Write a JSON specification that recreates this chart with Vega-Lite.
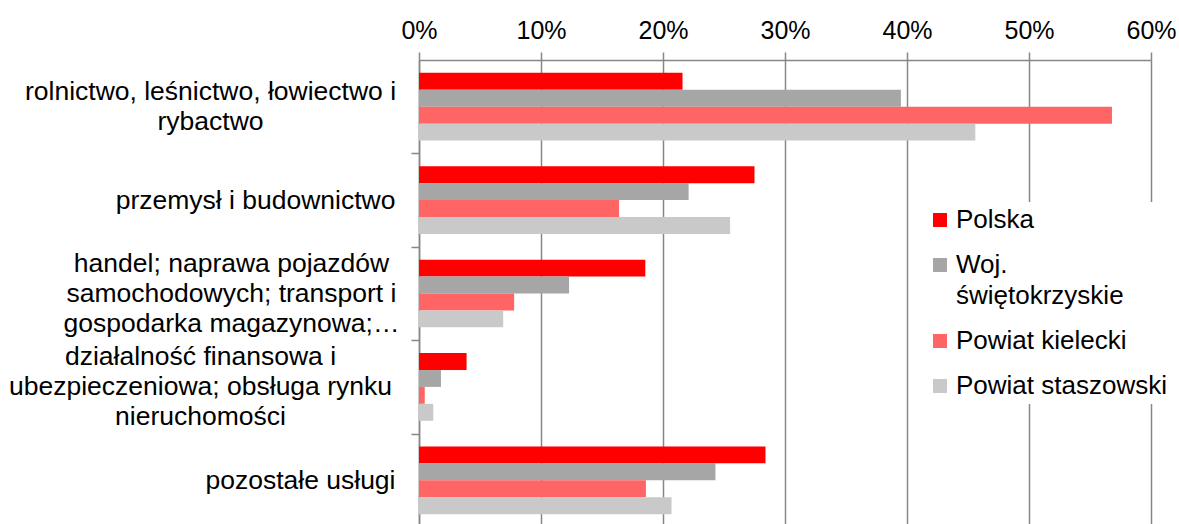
{
  "$schema": "https://vega.github.io/schema/vega-lite/v6.json",
  "width": 732,
  "height": 467,
  "padding": {"left": 5, "top": 5, "right": 5, "bottom": 5},
  "background": "white",
  "config": {"view": {"stroke": null}, "font": "Liberation Sans"},
  "data": {
    "values": [
      {"category": "rolnictwo, leśnictwo, łowiectwo i rybactwo", "series": "Polska", "value": 0.216},
      {"category": "rolnictwo, leśnictwo, łowiectwo i rybactwo", "series": "Woj. świętokrzyskie", "value": 0.395},
      {"category": "rolnictwo, leśnictwo, łowiectwo i rybactwo", "series": "Powiat kielecki", "value": 0.568},
      {"category": "rolnictwo, leśnictwo, łowiectwo i rybactwo", "series": "Powiat staszowski", "value": 0.456},
      {"category": "przemysł i budownictwo", "series": "Polska", "value": 0.275},
      {"category": "przemysł i budownictwo", "series": "Woj. świętokrzyskie", "value": 0.221},
      {"category": "przemysł i budownictwo", "series": "Powiat kielecki", "value": 0.164},
      {"category": "przemysł i budownictwo", "series": "Powiat staszowski", "value": 0.255},
      {"category": "handel; naprawa pojazdów samochodowych; transport i gospodarka magazynowa;…", "series": "Polska", "value": 0.1855},
      {"category": "handel; naprawa pojazdów samochodowych; transport i gospodarka magazynowa;…", "series": "Woj. świętokrzyskie", "value": 0.123},
      {"category": "handel; naprawa pojazdów samochodowych; transport i gospodarka magazynowa;…", "series": "Powiat kielecki", "value": 0.078},
      {"category": "handel; naprawa pojazdów samochodowych; transport i gospodarka magazynowa;…", "series": "Powiat staszowski", "value": 0.069},
      {"category": "działalność finansowa i ubezpieczeniowa; obsługa rynku nieruchomości", "series": "Polska", "value": 0.039},
      {"category": "działalność finansowa i ubezpieczeniowa; obsługa rynku nieruchomości", "series": "Woj. świętokrzyskie", "value": 0.018},
      {"category": "działalność finansowa i ubezpieczeniowa; obsługa rynku nieruchomości", "series": "Powiat kielecki", "value": 0.0047},
      {"category": "działalność finansowa i ubezpieczeniowa; obsługa rynku nieruchomości", "series": "Powiat staszowski", "value": 0.0117},
      {"category": "pozostałe usługi", "series": "Polska", "value": 0.284},
      {"category": "pozostałe usługi", "series": "Woj. świętokrzyskie", "value": 0.243},
      {"category": "pozostałe usługi", "series": "Powiat kielecki", "value": 0.186},
      {"category": "pozostałe usługi", "series": "Powiat staszowski", "value": 0.207}
    ]
  },
  "mark": {"type": "bar"},
  "encoding": {
    "y": {
      "field": "category",
      "type": "nominal",
      "sort": null,
      "scale": {"paddingInner": 0.275, "paddingOuter": 0.1375},
      "axis": {
        "title": null,
        "bandPosition": 1,
        "tickExtra": false,
        "tickOffset": 12.85,
        "grid": false,
        "domainColor": "#878787",
        "domainWidth": 1.5,
        "tickColor": "#878787",
        "tickWidth": 1.5,
        "tickSize": 8,
        "labelFontSize": 26.5,
        "labelColor": "black",
        "labelLineHeight": 30,
        "labelLimit": 0,
        "minExtent": 414,
        "maxExtent": 414,
        "labelAlign": {
          "condition": {"test": "datum.value == 'rolnictwo, leśnictwo, łowiectwo i rybactwo' || datum.value == 'handel; naprawa pojazdów samochodowych; transport i gospodarka magazynowa;…' || datum.value == 'działalność finansowa i ubezpieczeniowa; obsługa rynku nieruchomości'", "value": "center"},
          "value": "right"
        },
        "labelPadding": {
          "condition": [
            {"test": "datum.value == 'rolnictwo, leśnictwo, łowiectwo i rybactwo'", "value": 201},
            {"test": "datum.value == 'handel; naprawa pojazdów samochodowych; transport i gospodarka magazynowa;…'", "value": 180},
            {"test": "datum.value == 'działalność finansowa i ubezpieczeniowa; obsługa rynku nieruchomości'", "value": 211}
          ],
          "value": 16
        },
        "labelOffset": {
          "condition": [
            {"test": "datum.value == 'rolnictwo, leśnictwo, łowiectwo i rybactwo'", "value": -27.85},
            {"test": "datum.value == 'handel; naprawa pojazdów samochodowych; transport i gospodarka magazynowa;…' || datum.value == 'działalność finansowa i ubezpieczeniowa; obsługa rynku nieruchomości'", "value": -42.85}
          ],
          "value": -12.85
        },
        "labelExpr": "datum.value == 'rolnictwo, leśnictwo, łowiectwo i rybactwo' ? ['rolnictwo, leśnictwo, łowiectwo i', 'rybactwo'] : datum.value == 'handel; naprawa pojazdów samochodowych; transport i gospodarka magazynowa;…' ? ['handel; naprawa pojazdów', 'samochodowych; transport i', 'gospodarka magazynowa;…'] : datum.value == 'działalność finansowa i ubezpieczeniowa; obsługa rynku nieruchomości' ? ['działalność finansowa i', 'ubezpieczeniowa; obsługa rynku', 'nieruchomości'] : datum.label"
      }
    },
    "yOffset": {
      "field": "series",
      "type": "nominal",
      "sort": ["Polska", "Woj. świętokrzyskie", "Powiat kielecki", "Powiat staszowski"],
      "scale": {"paddingInner": 0, "paddingOuter": 0}
    },
    "x": {
      "field": "value",
      "type": "quantitative",
      "scale": {"domain": [0, 0.6], "nice": false},
      "axis": {
        "orient": "top",
        "title": null,
        "format": ".0%",
        "values": [0, 0.1, 0.2, 0.3, 0.4, 0.5, 0.6],
        "grid": true,
        "gridColor": "#878787",
        "gridWidth": 1.5,
        "domainColor": "#878787",
        "domainWidth": 1.5,
        "tickColor": "#878787",
        "tickWidth": 1.5,
        "tickSize": 8,
        "labelFontSize": 25,
        "labelColor": "black",
        "labelPadding": 14,
        "labelBaseline": "alphabetic",
        "labelFlush": false,
        "minExtent": 55,
        "maxExtent": 55
      }
    },
    "color": {
      "field": "series",
      "type": "nominal",
      "scale": {
        "domain": ["Polska", "Woj. świętokrzyskie", "Powiat kielecki", "Powiat staszowski"],
        "range": ["#FF0000", "#A6A6A6", "#FF6565", "#C9C9C9"]
      },
      "legend": {
        "orient": "none",
        "legendX": 503,
        "legendY": 142,
        "title": null,
        "fillColor": "white",
        "padding": 5,
        "symbolType": "square",
        "symbolSize": 196,
        "symbolStrokeWidth": 0,
        "labelFontSize": 26,
        "labelColor": "black",
        "labelOffset": 3,
        "labelLimit": 0,
        "rowPadding": 19,
        "labelExpr": "datum.label == 'Woj. świętokrzyskie' ? ['Woj.', 'świętokrzyskie'] : datum.label",
        "encode": {"labels": {"update": {"lineHeight": {"value": 31}}}}
      }
    }
  }
}
